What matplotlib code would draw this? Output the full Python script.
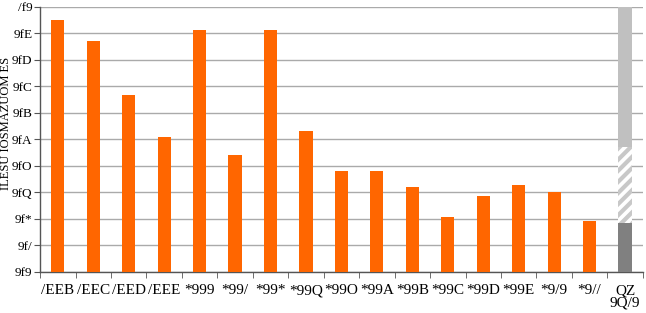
import matplotlib
matplotlib.use("Agg")
import matplotlib.pyplot as plt
import numpy as np

# labels as they appear in the reference
year_labels = ["/EEB", "/EEC", "/EED", "/EEE", "*999", "*99/", "*99*", "*99Q",
               "*99O", "*99A", "*99B", "*99C", "*99D", "*99E", "*9/9", "*9//"]
last_label = "QZ\n9Q/9"
ytick_labels = ["9f9", "9f/", "9f*", "9fQ", "9fO", "9fA", "9fB", "9fC", "9fD", "9fE", "/f9"]
ylabel = "ILESU IOSMAZUOM ES"

values = [0.95, 0.872, 0.668, 0.509, 0.913, 0.442, 0.913, 0.532,
          0.381, 0.381, 0.321, 0.208, 0.287, 0.328, 0.302, 0.192]

# last column: stacked segments
seg_dark = 0.185
seg_hatch = 0.287
seg_light = 0.528

plt.rcParams['font.family'] = ['Liberation Serif', 'DejaVu Serif']
plt.rcParams['hatch.linewidth'] = 3.0
plt.rcParams['hatch.color'] = '#c8c8c8'

fig = plt.figure(figsize=(6.46, 3.13), dpi=100)
ax = fig.add_axes([0.062, 0.131, 0.933, 0.847])

x = np.arange(len(values))
ax.bar(x, values, width=0.37, color='#ff6600', zorder=3)

xl = len(values)
ax.bar(xl, seg_dark, width=0.4, color='#808080', zorder=3)
ax.bar(xl, seg_hatch, bottom=seg_dark, width=0.4, color='white',
       hatch='///', edgecolor='#c8c8c8', linewidth=0, zorder=3)
ax.bar(xl, seg_light, bottom=seg_dark + seg_hatch, width=0.4, color='#c0c0c0', zorder=3)

ax.set_xlim(-0.5, xl + 0.5)
ax.set_ylim(0, 1.0)
ax.set_yticks(np.arange(0, 1.01, 0.1))
ax.set_yticklabels(ytick_labels, fontsize=9.5)
ax.set_xticks(list(x) + [xl])
ax.set_xticklabels(year_labels + [last_label], fontsize=11, linespacing=0.95)
ax.set_xticks(np.arange(-0.5, xl + 1, 1), minor=True)
ax.tick_params(axis='x', which='major', length=0, pad=9)
ax.tick_params(axis='x', which='minor', length=4, direction='out', color='#555555')
ax.tick_params(axis='y', length=4, direction='out', color='#555555', pad=1.5)

ax.yaxis.grid(True, color='#aaaaaa', linewidth=1.0, zorder=0)
ax.set_axisbelow(True)
for s in ['top', 'right']:
    ax.spines[s].set_visible(False)
for s in ['left', 'bottom']:
    ax.spines[s].set_color('#555555')
    ax.spines[s].set_linewidth(1.0)

ax.set_ylabel(ylabel, fontsize=9)
ax.yaxis.set_label_coords(-0.0465, 0.56)

fig.savefig("out.png", dpi=100)
